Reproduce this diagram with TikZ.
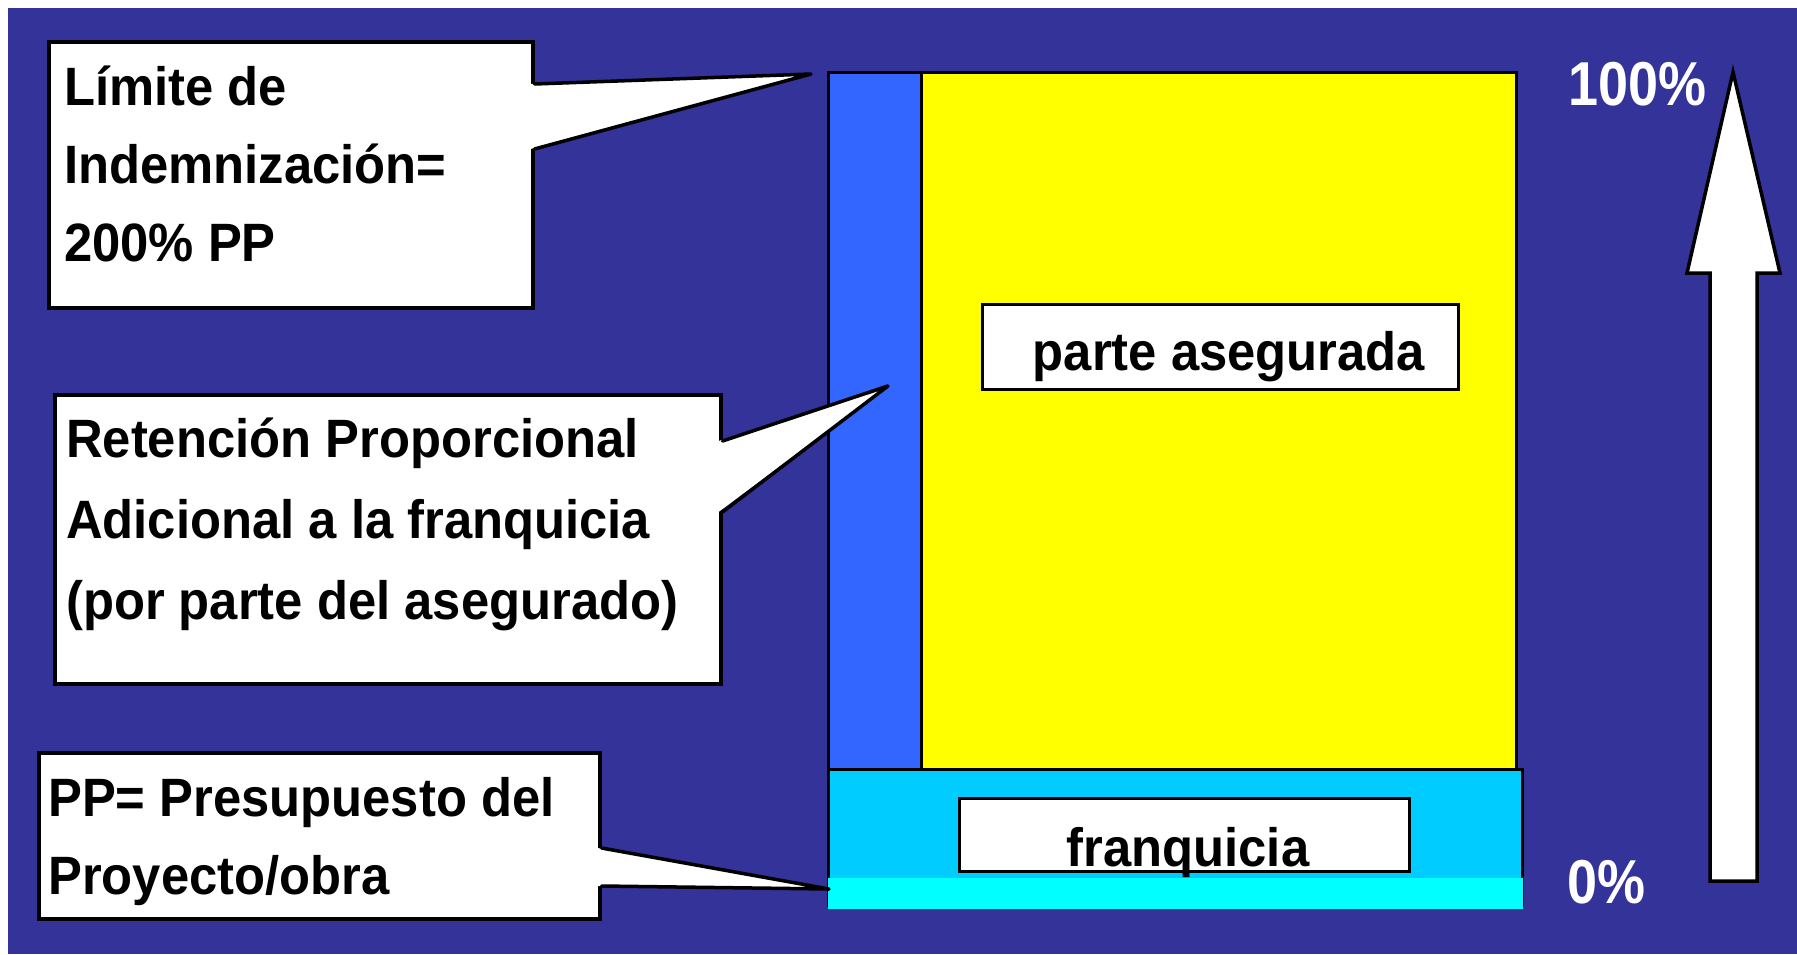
\documentclass[tikz,border=0pt]{standalone}
\usepackage{fontspec}
\setmainfont{Liberation Sans}
\newfontfamily\callfont[FakeStretch=0.94]{Liberation Sans}
\newfontfamily\pctfont[FakeStretch=0.87]{Liberation Sans}
\usetikzlibrary{calc, positioning}
\definecolor{SlideBlue}{HTML}{333399}
\definecolor{RetBlue}{HTML}{3366FF}
\definecolor{InsYellow}{HTML}{FFFF00}
\definecolor{FranqBlue}{HTML}{00CCFF}
\definecolor{BaseCyan}{HTML}{00FFFF}
\tikzstyle{callbox} = [draw=black,fill=white,line width=3.5pt,anchor=north west,inner sep=0pt]
\tikzstyle{calltext} = [anchor=base west,inner sep=0pt,font=\callfont\bfseries\fontsize{54}{60}\selectfont]
\tikzstyle{labbox} = [draw=black,fill=white,line width=3pt,inner sep=0pt,font=\callfont\bfseries\fontsize{54}{60}\selectfont]
\tikzstyle{pct} = [anchor=base west,inner sep=0pt,text=white,font=\pctfont\bfseries\fontsize{62}{70}\selectfont]
\tikzstyle{part} = [draw=black,line width=3pt]
\tikzstyle{pointer} = [draw=black,line width=3.5pt,line join=round,line cap=round]

\begin{document}
\begin{tikzpicture}[x=1pt,y=-1pt]
			\useasboundingbox (0,0) rectangle (1797,954);
			\fill[white] (0,0) rectangle (1797,954);
			\fill[SlideBlue] (8,8) rectangle (1797,954);
			
			% bar
			\draw[part,fill=RetBlue] (828,72) rectangle (921,769);
			\draw[part,fill=InsYellow] (921,72) rectangle (1516,769);
			\draw[part,fill=FranqBlue] (828,769) rectangle (1522,905);
			\fill[BaseCyan] (828,878) rectangle (1523,909);
			
			\node[labbox,minimum width=476pt,minimum height=85pt] (asegurada) at (1220,347) {};
			\node[calltext,anchor=base] (asegtext) at (1229,370) {parte asegurada};
			\node[labbox,minimum width=450pt,minimum height=73pt] (franq) at (1184,834.5) {};
			\node[calltext,anchor=base] (franqtext) at (1188,866) {franquicia};
			
			% arrow
			\draw[pointer,fill=white,line cap=butt,line join=miter] (1733,72) -- (1780,273) -- (1757,273) -- (1757,881) -- (1710,881) -- (1710,273) -- (1687,273) -- cycle;
			\node[pct] (top) at (1568,105) {100\%};
			\node[pct] (bottom) at (1567,903) {0\%};
			
			% callouts
			\node[callbox,minimum width=484pt,minimum height=266pt] (limite) at (47,40) {};
			\coordinate (limtip) at (811,74);
			\fill[white] ($(limite.north east)+(-4,44)$) -- (limtip) -- ($(limite.north east)+(-4,109)$) -- cycle;
			\draw[pointer] ($(limite.north east)+(0,44)$) -- (limtip) -- ($(limite.north east)+(0,109)$);
			\node[calltext] (lim1) at (64,105) {Límite de};
			\node[calltext] (lim2) at (64,183) {Indemnización=};
			\node[calltext] (lim3) at (64,261) {200\% PP};
			
			\node[callbox,minimum width=666pt,minimum height=289pt] (retencion) at (53,393) {};
			\coordinate (rettip) at (888,386);
			\fill[white] ($(retencion.north east)+(-4,48)$) -- (rettip) -- ($(retencion.north east)+(-4,119)$) -- cycle;
			\draw[pointer] ($(retencion.north east)+(0,48)$) -- (rettip) -- ($(retencion.north east)+(0,119)$);
			\node[calltext] (ret1) at (66,457) {Retención Proporcional};
			\node[calltext] (ret2) at (66,538) {Adicional a la franquicia};
			\node[calltext] (ret3) at (66,619) {(por parte del asegurado)};
			
			\node[callbox,minimum width=561pt,minimum height=166pt] (presup) at (37,751) {};
			\coordinate (pretip) at (829,889);
			\fill[white] ($(presup.north east)+(-4,97)$) -- (pretip) -- ($(presup.north east)+(-4,135)$) -- cycle;
			\draw[pointer] ($(presup.north east)+(0,97)$) -- (pretip) -- ($(presup.north east)+(0,135)$);
			\node[calltext] (pre1) at (48,816) {PP= Presupuesto del};
			\node[calltext] (pre2) at (48,894) {Proyecto/obra};
\end{tikzpicture}
\end{document}
